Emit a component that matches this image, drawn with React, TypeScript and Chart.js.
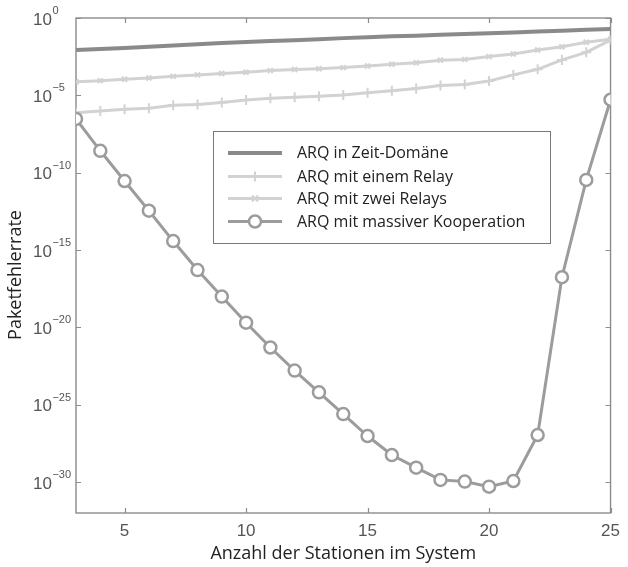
import React, { useEffect, useRef } from "react";
import { Chart, registerables } from "chart.js";

Chart.register(...registerables);

// ---------- data ----------
const stations = [3, 4, 5, 6, 7, 8, 9, 10, 11, 12, 13, 14, 15, 16, 17, 18, 19, 20, 21, 22, 23, 24, 25];

const arqZeitDomaene = [
  8.5e-3, 1.0e-2, 1.17e-2, 1.38e-2, 1.66e-2, 2.0e-2, 2.4e-2, 2.8e-2, 3.2e-2, 3.7e-2, 4.3e-2, 5.0e-2,
  5.75e-2, 6.5e-2, 7.2e-2, 8.3e-2, 9.3e-2, 0.105, 0.117, 0.132, 0.151, 0.174, 0.195,
];

const arqEinRelay = [
  7.6e-7, 9.8e-7, 1.26e-6, 1.45e-6, 2.3e-6, 2.6e-6, 3.4e-6, 5.0e-6, 6.5e-6, 7.6e-6, 8.9e-6, 1.05e-5,
  1.48e-5, 2.0e-5, 2.8e-5, 4.3e-5, 5.1e-5, 8.5e-5, 2.1e-4, 4.8e-4, 1.95e-3, 6.0e-3, 3.8e-2,
];

const arqZweiRelays = [
  7.6e-5, 8.9e-5, 1.1e-4, 1.32e-4, 1.7e-4, 2.1e-4, 2.6e-4, 3.1e-4, 4.0e-4, 4.7e-4, 5.2e-4, 6.2e-4,
  7.9e-4, 1.02e-3, 1.29e-3, 1.86e-3, 2.1e-3, 3.2e-3, 4.7e-3, 8.5e-3, 1.38e-2, 2.7e-2, 4.2e-2,
];

const arqMassiveKooperation = [
  3.0e-7, 2.6e-9, 2.9e-11, 3.5e-13, 3.8e-15, 5.1e-17, 9.8e-19, 2.0e-20, 5.0e-22, 1.6e-23, 6.3e-25,
  2.5e-26, 9.5e-28, 5.6e-29, 8.5e-30, 1.38e-30, 1.07e-30, 5.0e-31, 1.17e-30, 1.1e-27, 1.74e-17,
  3.4e-11, 5.2e-6,
];

const xTickValues = [5, 10, 15, 20, 25];
const yTickExponents = [0, -5, -10, -15, -20, -25, -30];

const legendLabels = [
  "ARQ in Zeit-Domäne",
  "ARQ mit einem Relay",
  "ARQ mit zwei Relays",
  "ARQ mit massiver Kooperation",
];
const xAxisTitle = "Anzahl der Stationen im System";
const yAxisTitle = "Paketfehlerrate";

// ---------- styles ----------
const DARK = "#8a8a8a";
const LIGHT = "#d2d2d2";
const CIRCLE = "#9c9c9c";
const AXIS = "#8c8c8c";
const TICK_TEXT = "#555555";
const TITLE_TEXT = "#222222";
const SANS = '"Liberation Sans", Arial, sans-serif';
const HUMAN = '"Open Sans", "Noto Sans", sans-serif';

const toPoints = (arr: number[]) => stations.map((s, i) => ({ x: s, y: arr[i] }));

const framePlugin = {
  id: "frame",
  beforeDatasetsDraw(chart: any) {
    const { ctx, chartArea } = chart;
    const { left, right, top, bottom } = chartArea;
    const xs = chart.scales.x;
    const ys = chart.scales.y;
    ctx.save();
    ctx.strokeStyle = AXIS;
    ctx.lineWidth = 1.4;
    ctx.strokeRect(left, top, right - left, bottom - top);
    ctx.lineWidth = 1.2;
    const tl = 5;
    ctx.beginPath();
    xTickValues.forEach((v) => {
      const px = Math.round(xs.getPixelForValue(v)) + 0.5;
      ctx.moveTo(px, bottom);
      ctx.lineTo(px, bottom - tl);
      ctx.moveTo(px, top);
      ctx.lineTo(px, top + tl);
    });
    yTickExponents.forEach((e) => {
      const py = Math.round(ys.getPixelForValue(Math.pow(10, e))) + 0.5;
      ctx.moveTo(left, py);
      ctx.lineTo(left + tl, py);
      ctx.moveTo(right, py);
      ctx.lineTo(right - tl, py);
    });
    ctx.stroke();

    // y tick labels with superscript exponents
    ctx.fillStyle = TICK_TEXT;
    ctx.textAlign = "left";
    ctx.textBaseline = "alphabetic";
    yTickExponents.forEach((e) => {
      const py = ys.getPixelForValue(Math.pow(10, e));
      ctx.font = `17px ${SANS}`;
      const baseX = 33;
      ctx.fillText("10", baseX, py + 6.5);
      const w = ctx.measureText("10").width;
      ctx.font = `11px ${SANS}`;
      const exp = e === 0 ? "0" : "\u2212" + String(-e);
      ctx.fillText(exp, baseX + w + 0.5, py - 4);
    });

    // y axis title (rotated)
    ctx.save();
    ctx.translate(16, 275);
    ctx.rotate(-Math.PI / 2);
    ctx.font = `18px ${HUMAN}`;
    ctx.fillStyle = TITLE_TEXT;
    ctx.textAlign = "center";
    ctx.textBaseline = "middle";
    ctx.fillText(yAxisTitle, 0, 0);
    ctx.restore();

    ctx.restore();
  },
};

const legendPlugin = {
  id: "floatingLegend",
  afterDatasetsDraw(chart: any) {
    const { ctx } = chart;
    const bx = 213, by = 131, bw = 337, bh = 112;
    ctx.save();
    ctx.fillStyle = "#ffffff";
    ctx.fillRect(bx, by, bw, bh);
    ctx.strokeStyle = "#7a7a7a";
    ctx.lineWidth = 1;
    ctx.strokeRect(bx + 0.5, by + 0.5, bw, bh);

    const rows = [153, 176.5, 198.5, 221.5];
    const x0 = 228, x1 = 282, xm = 255;
    const styles = [
      { color: DARK, width: 4, marker: "none" },
      { color: LIGHT, width: 3, marker: "plus" },
      { color: LIGHT, width: 3, marker: "x" },
      { color: CIRCLE, width: 3, marker: "circle" },
    ];
    styles.forEach((st, i) => {
      const y = rows[i];
      ctx.strokeStyle = st.color;
      ctx.lineWidth = st.width;
      ctx.beginPath();
      ctx.moveTo(x0, y);
      ctx.lineTo(x1, y);
      ctx.stroke();
      ctx.lineWidth = 2;
      if (st.marker === "plus") {
        ctx.beginPath();
        ctx.moveTo(xm, y - 5);
        ctx.lineTo(xm, y + 5);
        ctx.stroke();
      } else if (st.marker === "x") {
        ctx.beginPath();
        ctx.moveTo(xm - 3, y - 3);
        ctx.lineTo(xm + 3, y + 3);
        ctx.moveTo(xm - 3, y + 3);
        ctx.lineTo(xm + 3, y - 3);
        ctx.stroke();
      } else if (st.marker === "circle") {
        ctx.fillStyle = "#ffffff";
        ctx.lineWidth = 2.5;
        ctx.beginPath();
        ctx.arc(xm, y, 6, 0, Math.PI * 2);
        ctx.fill();
        ctx.stroke();
      }
      ctx.fillStyle = TITLE_TEXT;
      ctx.font = `16px ${HUMAN}`;
      ctx.textAlign = "left";
      ctx.textBaseline = "middle";
      ctx.fillText(legendLabels[i], 297, y + 0.5);
    });
    ctx.restore();
  },
};

export default function App() {
  const canvasRef = useRef<HTMLCanvasElement | null>(null);

  useEffect(() => {
    const canvas = canvasRef.current;
    if (!canvas) return;
    const chart = new Chart(canvas, {
      type: "line",
      data: {
        datasets: [
          {
            label: legendLabels[0],
            data: toPoints(arqZeitDomaene),
            borderColor: DARK,
            borderWidth: 4,
            pointRadius: 0,
            tension: 0,
            order: 1,
          },
          {
            label: legendLabels[1],
            data: toPoints(arqEinRelay),
            borderColor: LIGHT,
            borderWidth: 3,
            pointStyle: "cross",
            pointRadius: 5,
            pointBorderWidth: 2,
            pointBorderColor: LIGHT,
            tension: 0,
            order: 2,
          },
          {
            label: legendLabels[2],
            data: toPoints(arqZweiRelays),
            borderColor: LIGHT,
            borderWidth: 3,
            pointStyle: "crossRot",
            pointRadius: 3.5,
            pointBorderWidth: 2,
            pointBorderColor: LIGHT,
            tension: 0,
            order: 3,
          },
          {
            label: legendLabels[3],
            data: toPoints(arqMassiveKooperation),
            borderColor: CIRCLE,
            borderWidth: 3,
            pointStyle: "circle",
            pointRadius: 6,
            pointBorderWidth: 2.5,
            pointBorderColor: CIRCLE,
            pointBackgroundColor: "#ffffff",
            tension: 0,
            order: 0,
          },
        ],
      },
      options: {
        animation: false,
        responsive: true,
        maintainAspectRatio: false,
        layout: { padding: { top: 18, right: 11, left: 0, bottom: 0 } },
        plugins: {
          legend: { display: false },
          tooltip: { enabled: false },
        },
        scales: {
          x: {
            type: "linear",
            min: 3,
            max: 25,
            afterBuildTicks: (s: any) => {
              s.ticks = xTickValues.map((v) => ({ value: v }));
            },
            afterFit: (s: any) => {
              s.height = 54;
            },
            grid: { display: false, drawTicks: false },
            border: { display: false },
            ticks: {
              font: { family: SANS, size: 17 },
              color: TICK_TEXT,
              padding: 8,
              maxRotation: 0,
              autoSkip: false,
            },
            title: {
              display: true,
              text: xAxisTitle,
              font: { family: HUMAN, size: 18 },
              color: TITLE_TEXT,
              padding: { top: 0, bottom: 2 },
            },
          },
          y: {
            type: "logarithmic",
            min: 1e-32,
            max: 1,
            afterBuildTicks: (s: any) => {
              s.ticks = yTickExponents.map((e) => ({ value: Math.pow(10, e) }));
            },
            afterFit: (s: any) => {
              s.width = 76;
            },
            grid: { display: false, drawTicks: false },
            border: { display: false },
            ticks: { display: false },
            title: { display: false },
          },
        },
      } as any,
      plugins: [framePlugin, legendPlugin],
    });
    return () => chart.destroy();
  }, []);

  return (
    <div
      style={{
        position: "fixed",
        left: 0,
        top: 0,
        width: 628,
        height: 567,
        background: "#ffffff",
      }}
    >
      <canvas ref={canvasRef} />
    </div>
  );
}
